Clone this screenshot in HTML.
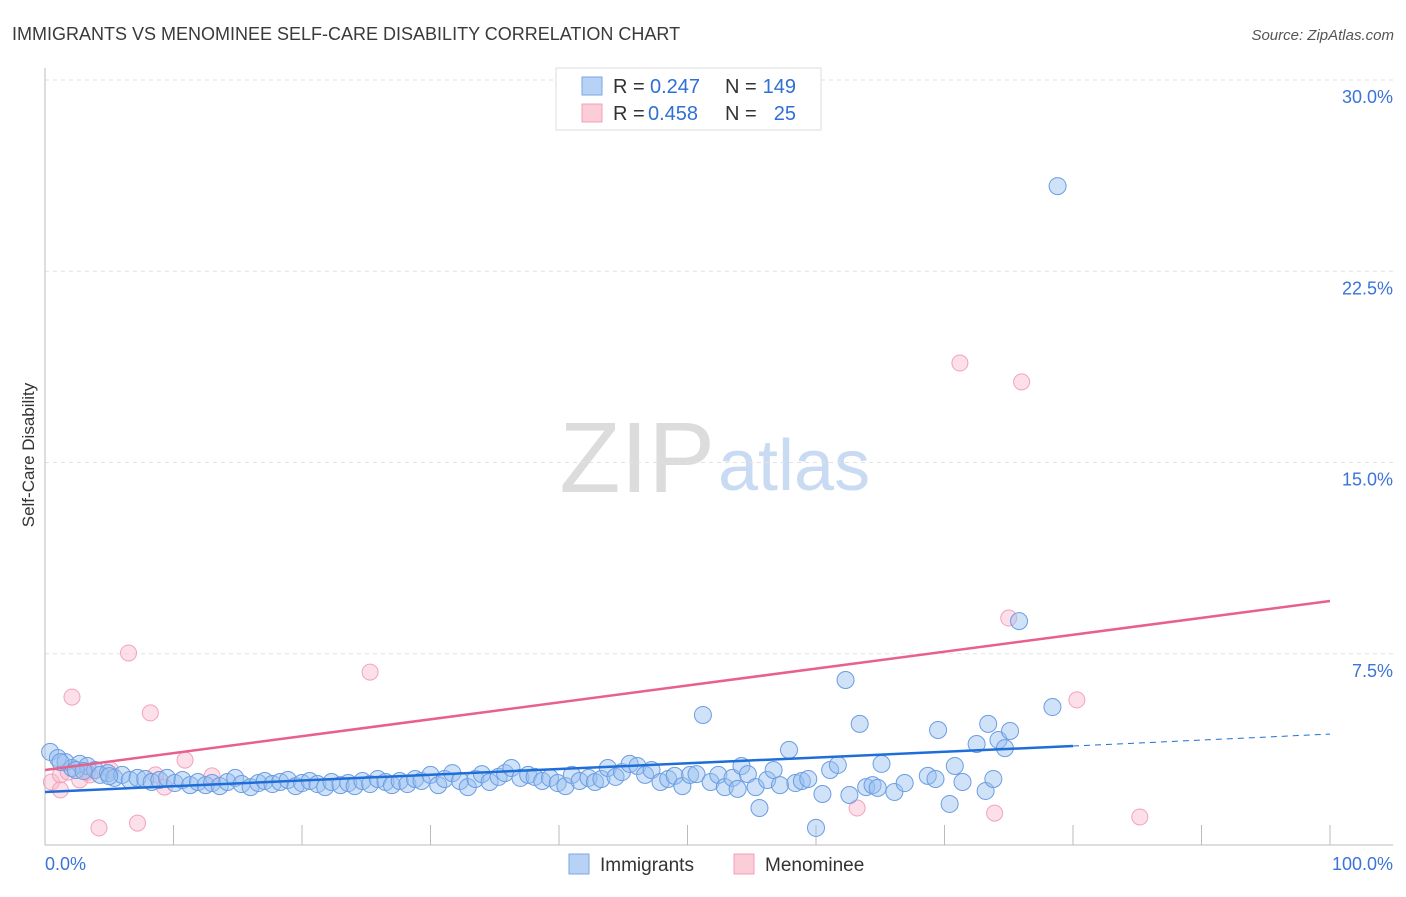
<!DOCTYPE html>
<html><head><meta charset="utf-8"><style>
body{margin:0;background:#fff;font-family:"Liberation Sans",sans-serif}
svg text{font-family:"Liberation Sans",sans-serif}
</style></head><body>
<svg width="1406" height="892" xmlns="http://www.w3.org/2000/svg">
<text x="12" y="40" font-size="18" fill="#3a3a3a">IMMIGRANTS VS MENOMINEE SELF-CARE DISABILITY CORRELATION CHART</text>
<text x="1394" y="40" font-size="15" fill="#555" font-style="italic" text-anchor="end">Source: ZipAtlas.com</text>
<text x="715" y="492" font-size="100" fill="#dcdcdc" text-anchor="end" font-family="Liberation Serif">ZIP</text>
<text x="718" y="490" font-size="72" fill="#c9daf3">atlas</text>
<text transform="translate(34,455) rotate(-90)" font-size="17" fill="#333" text-anchor="middle">Self-Care Disability</text>
<g id="grid"></g><g id="pts"></g><g id="lines"></g>
<rect x="556" y="68" width="265" height="62" fill="#fff" stroke="#ddd"/>
<rect x="582" y="77" width="20" height="18" fill="#b8d2f5" stroke="#7aa6e6"/>
<rect x="582" y="104" width="20" height="18" fill="#fbcdd9" stroke="#f0a0b8"/>
<g font-size="20">
<text x="613" y="93" fill="#333">R =</text><text x="650" y="93" fill="#2f6fd6">0.247</text>
<text x="725" y="93" fill="#333">N =</text><text x="796" y="93" fill="#2f6fd6" text-anchor="end">149</text>
</g>
<g font-size="20">
<text x="613" y="120" fill="#333">R =</text><text x="648" y="120" fill="#2f6fd6">0.458</text>
<text x="725" y="120" fill="#333">N =</text><text x="796" y="120" fill="#2f6fd6" text-anchor="end">25</text>
</g>
<rect x="569" y="854" width="20" height="20" fill="#b8d2f5" stroke="#7aa6e6"/>
<text x="600" y="871" font-size="19" fill="#333">Immigrants</text>
<rect x="734" y="854" width="20" height="20" fill="#fbcdd9" stroke="#f0a0b8"/>
<text x="765" y="871" font-size="19" fill="#333">Menominee</text>
<text x="45" y="870" font-size="18" fill="#3b73d9">0.0%</text>
<text x="1393" y="870" font-size="18" fill="#3b73d9" text-anchor="end">100.0%</text>
</svg>
<script>
const yTicks=[7.5,15,22.5,30];
const yTickLabels=["7.5%","15.0%","22.5%","30.0%"];
const xTicks=[0,10,20,30,40,50,60,70,80,90,100];
const blueX=[0.4,1.0,1.6,2.1,2.7,3.3,3.9,4.3,4.9,5.4,6.0,6.6,7.2,7.8,8.3,8.9,9.5,10.1,10.7,11.3,11.9,12.5,13.0,13.6,14.2,14.8,15.3,16.0,16.6,17.1,17.7,18.3,18.9,19.5,20.0,20.6,21.2,21.8,22.3,23.0,23.6,24.1,24.7,25.3,25.9,26.5,27.0,27.6,28.2,28.8,29.3,30.0,30.6,31.1,31.7,32.3,32.9,33.5,34.0,34.6,35.3,35.8,36.3,37.0,37.6,38.1,38.7,39.3,39.9,40.5,41.0,41.6,42.3,42.8,43.3,43.8,44.4,44.9,45.5,46.1,46.7,47.2,47.9,48.5,49.0,49.6,50.2,50.7,51.2,51.8,52.4,52.9,53.5,53.9,54.2,54.7,55.3,55.6,56.2,56.7,57.2,57.9,58.4,58.9,59.4,60.0,60.5,61.1,61.7,62.3,62.6,63.4,63.9,64.4,64.8,65.1,66.1,66.9,68.7,69.3,69.5,70.4,70.8,71.4,72.5,73.2,73.4,73.8,74.2,74.7,75.1,75.8,78.4,78.8,1.2,2.4,3.0,5.0];
const blueY=[3.65,3.41,3.25,3.02,3.18,3.10,2.94,2.75,2.82,2.63,2.75,2.55,2.63,2.59,2.47,2.55,2.63,2.43,2.55,2.35,2.47,2.35,2.43,2.31,2.47,2.63,2.39,2.27,2.43,2.51,2.39,2.47,2.55,2.31,2.43,2.51,2.39,2.27,2.47,2.35,2.43,2.31,2.51,2.39,2.59,2.47,2.35,2.51,2.39,2.59,2.51,2.75,2.35,2.59,2.82,2.51,2.27,2.59,2.78,2.47,2.67,2.82,3.02,2.63,2.75,2.67,2.51,2.63,2.43,2.31,2.75,2.51,2.63,2.47,2.59,3.02,2.67,2.86,3.18,3.10,2.75,2.94,2.47,2.59,2.71,2.31,2.75,2.78,5.10,2.47,2.75,2.27,2.63,2.20,3.10,2.78,2.27,1.45,2.55,2.94,2.35,3.73,2.43,2.51,2.59,0.67,2.00,2.94,3.14,6.47,1.96,4.75,2.27,2.35,2.24,3.18,2.08,2.43,2.71,2.59,4.51,1.61,3.10,2.47,3.96,2.12,4.75,2.59,4.12,3.80,4.47,8.78,5.41,25.84,3.25,2.94,2.90,2.70];
const pinkX=[0.5,1.2,1.8,2.1,2.7,3.3,3.5,4.2,5.1,6.5,7.2,8.2,8.6,9.3,10.9,13.0,25.3,63.2,71.2,73.9,75.0,76.0,80.3,85.2,1.2];
const pinkY=[2.47,2.75,2.86,5.80,2.55,2.86,2.75,0.67,2.94,7.53,0.86,5.18,2.75,2.27,3.33,2.71,6.78,1.45,18.9,1.25,8.90,18.16,5.69,1.10,2.16];
const blueTrend=[[0,2.08],[80,3.88]], blueDash=[[80,3.88],[100,4.35]];
const pinkTrend=[[0,2.94],[100,9.57]];
const NS="http://www.w3.org/2000/svg";
const sx=v=>45+v*12.85, sy=v=>845-v*25.5;
function mk(t,a,p){const e=document.createElementNS(NS,t);for(const k in a)e.setAttribute(k,a[k]);p.appendChild(e);return e;}
const grid=document.getElementById('grid');
yTicks.forEach((t,i)=>{
 const l=mk('line',{x1:45,x2:1393,y1:sy(t),y2:sy(t),stroke:'#e2e2e2','stroke-dasharray':'4,4'},grid);
 
 
 const tx=mk('text',{x:1393,y:sy(t)+23,'font-size':18,fill:'#3b73d9','text-anchor':'end'},grid);
 tx.textContent=yTickLabels[i];
 
 
});
const ax=mk('line',{x1:45,x2:45,y1:68,y2:845,stroke:'#bbb'},grid);


const bx=mk('line',{x1:45,x2:1393,y1:845,y2:845,stroke:'#bbb'},grid);


xTicks.forEach(t=>{
 const l=mk('line',{x1:sx(t),x2:sx(t),y1:825,y2:845,stroke:'#bbb'},grid);
 
 
});
const pts=document.getElementById('pts');
pinkX.forEach((x,i)=>{
 const c=mk('circle',{cx:sx(x),cy:sy(pinkY[i]),r:8,fill:'rgba(248,185,203,0.45)',stroke:'#f2a3bb','stroke-width':1},pts);
 
 
});
blueX.forEach((x,i)=>{
 const c=mk('circle',{cx:sx(x),cy:sy(blueY[i]),r:8.5,fill:'rgba(150,190,240,0.45)',stroke:'#6b9de2','stroke-width':1},pts);
 
 
});
const lines=document.getElementById('lines');
const bt=mk('line',{x1:sx(blueTrend[0][0]),y1:sy(blueTrend[0][1]),x2:sx(blueTrend[1][0]),y2:sy(blueTrend[1][1]),stroke:'#1f6ed8','stroke-width':2.5},lines);


const bd=mk('line',{x1:sx(blueDash[0][0]),y1:sy(blueDash[0][1]),x2:sx(blueDash[1][0]),y2:sy(blueDash[1][1]),stroke:'#1f6ed8','stroke-width':1,'stroke-dasharray':'6,5'},lines);


const pt=mk('line',{x1:sx(pinkTrend[0][0]),y1:sy(pinkTrend[0][1]),x2:sx(pinkTrend[1][0]),y2:sy(pinkTrend[1][1]),stroke:'#e8608c','stroke-width':2.5},lines);


</script>
</body></html>
